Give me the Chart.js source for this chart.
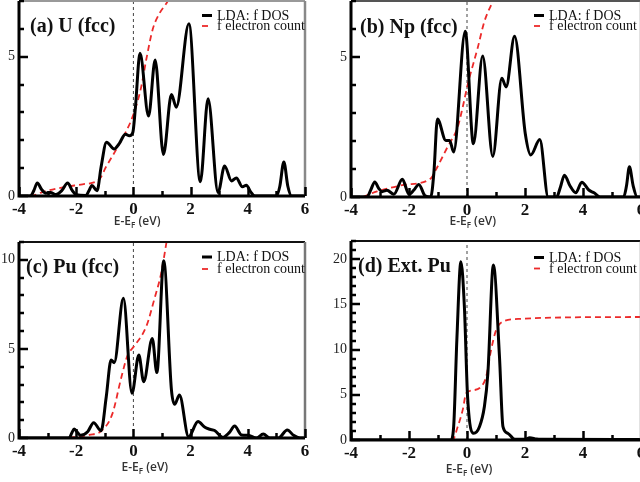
<!DOCTYPE html>
<html>
<head>
<meta charset="utf-8">
<script src="https://cdn.jsdelivr.net/npm/chart.js@4"></script>
<style>
  html, body { margin: 0; padding: 0; background: #fff; overflow: hidden; }
  body { width: 640px; height: 482px; position: relative; }
  canvas { position: absolute; }
</style>
</head>
<body>
<canvas id="pa" width="320" height="236" style="left:0;top:0"></canvas>
<canvas id="pb" width="330" height="237" style="left:330px;top:0"></canvas>
<canvas id="pc" width="320" height="250" style="left:0;top:232px"></canvas>
<canvas id="pd" width="330" height="250" style="left:330px;top:232px"></canvas>
<script>
// Tick labels
const xTickLabels = [-4, -2, 0, 2, 4, 6];
const legendLabels = ['LDA: f DOS', 'f electron count'];

// (a) U (fcc)
const uDosE = [-4, -3.6, -3.48, -3.36, -3.22, -3.06, -2.9, -2.71, -2.5, -2.3, -2.14, -2.01, -1.66, -1.55, -1.45, -1.27, -1.13, -0.94, -0.67, -0.49, -0.28, -0.14, -0.02, 0.07, 0.23, 0.53, 0.76, 1.05, 1.33, 1.5, 1.94, 2.34, 2.61, 2.96, 3.19, 3.43, 3.6, 3.81, 3.95, 4.1, 4.25, 5.0, 5.12, 5.26, 5.4, 5.53, 6];
const uDos = [0, 0, 0.2, 0.47, 0.25, 0.1, 0.13, 0.05, 0.2, 0.47, 0.2, 0.05, 0.02, 0.2, 0.38, 0.19, 1.04, 1.93, 1.69, 1.89, 2.22, 2.16, 2.28, 3.17, 5.12, 2.87, 4.88, 1.49, 3.64, 3.19, 6.18, 0.51, 3.49, 0.13, 1.08, 0.54, 0.65, 0.33, 0.39, 0.15, 0, 0, 0.35, 1.22, 0.35, 0, 0];
const uCountE = [-3.6, -3.45, -3.18, -2.36, -1.78, -1.19, -0.96, -0.49, -0.02, 0.27, 0.45, 0.68, 0.91, 1.2, 1.45];
const uCount = [0, 0.03, 0.14, 0.33, 0.42, 0.6, 1.04, 1.87, 2.87, 3.9, 4.9, 6.0, 6.55, 7.0, 7.6];

// (b) Np (fcc)
const npDosE = [-4, -3.45, -3.32, -3.18, -3.04, -2.93, -2.76, -2.52, -2.23, -2.0, -1.83, -1.66, -1.45, -1.25, -1.14, -1.02, -0.73, -0.6, -0.46, -0.06, 0.22, 0.54, 0.89, 1.2, 1.35, 1.64, 2.01, 2.2, 2.51, 2.8, 3.09, 3.22, 3.36, 3.55, 3.75, 3.96, 4.2, 4.38, 4.59, 5.4, 5.5, 5.6, 5.73, 5.87, 6];
const npDos = [0, 0, 0.25, 0.54, 0.3, 0.19, 0.24, 0.1, 0.63, 0.1, 0.25, 0.45, 0.05, 0, 0.9, 2.79, 2.02, 2.02, 1.61, 5.92, 1.9, 5.04, 1.45, 4.24, 3.93, 5.74, 2.26, 1.5, 2.05, 0, 0, 0.35, 0.78, 0.4, 0.15, 0.53, 0.25, 0.15, 0, 0, 0.4, 1.08, 0.4, 0, 0];
const npCountE = [-3.6, -3.1, -2.18, -1.25, -1.08, -0.67, -0.32, -0.15, 0.02, 0.37, 0.6, 0.89, 1.1];
const npCount = [0, 0.2, 0.43, 0.66, 0.96, 1.79, 2.5, 3.2, 4.0, 5.33, 6.27, 6.99, 7.5];

// (c) Pu (fcc)
const puDosE = [-4, -2.25, -2.15, -2.07, -1.95, -1.84, -1.6, -1.39, -1.13, -0.95, -0.78, -0.67, -0.35, -0.05, 0.19, 0.36, 0.66, 0.82, 1.06, 1.33, 1.44, 1.61, 1.93, 2.26, 2.5, 2.67, 2.84, 3.13, 3.35, 3.54, 3.78, 4.01, 4.3, 4.54, 4.78, 5.07, 5.38, 5.6, 5.82, 6];
const puDos = [0, 0, 0.3, 0.5, 0.3, 0.15, 0.35, 0.86, 0.41, 2.3, 4.38, 4.23, 7.84, 2.51, 4.66, 3.16, 5.59, 3.67, 9.95, 2.7, 1.89, 2.41, 0.07, 0.92, 0.6, 0.49, 0.42, 0.04, 0.3, 0.67, 0.17, 0.15, 0, 0.22, 0, 0, 0.45, 0.15, 0, 0];
const puCountE = [-4, -2.36, -2.0, -1.54, -1.08, -0.73, -0.43, -0.2, 0.01, 0.45, 0.74, 0.97, 1.15, 1.25];
const puCount = [0, 0, 0.07, 0.17, 0.45, 1.38, 3.35, 4.66, 5.12, 6.26, 7.84, 9.24, 10.92, 11.9];

// (d) Ext. Pu
const extDosE = [-4, -0.56, -0.46, -0.35, -0.21, -0.09, 0.02, 0.23, 0.43, 0.6, 0.72, 0.91, 1.12, 1.24, 1.41, 1.65, 2.0, 2.16, 2.4, 2.57, 6];
const extDos = [0, 0, 1.47, 11.06, 19.7, 14.7, 4.8, 0.74, 1.47, 3.7, 7.4, 19.35, 9.2, 1.47, 0.74, 0.07, 0.07, 0.26, 0.1, 0.07, 0.05];
const extCountE = [-4, -0.5, -0.32, -0.15, -0.03, 0.14, 0.49, 0.66, 0.83, 1.01, 1.24, 1.88, 3.6, 6];
const extCount = [0, 0, 1.47, 3.3, 5.16, 5.46, 5.9, 7.0, 9.95, 12.2, 13.1, 13.4, 13.56, 13.6];

const RED = 'rgb(236,42,42)';
const SERIF = '"Liberation Serif", "Times New Roman", serif';

const panels = [
    { id: 'pa', title: '(a) U (fcc)', dosE: uDosE, dos: uDos, countE: uCountE, count: uCount,
      yMax: 7, yLabels: [0, 5], pad: { top: 1, left: 0, right: 15, bottom: 0 }, yW: 19, xH: 40,
      titleDx: 11, titleDy: 31, legDy: 18.5, legGap: 10.5, axisE: 0.13, axisDy: 26, topColor: '#999', rightColor: '#888' },
    { id: 'pb', title: '(b) Np (fcc)', dosE: npDosE, dos: npDos, countE: npCountE, count: npCount,
      yMax: 7, yLabels: [0, 5], pad: { top: 1, left: 0, right: 19, bottom: 0 }, yW: 21, xH: 40,
      titleDx: 9, titleDy: 32, legDy: 18.5, legGap: 10.5, axisE: 0.2, axisDy: 25, topColor: '#555', rightColor: '#888' },
    { id: 'pc', title: '(c) Pu (fcc)', dosE: puDosE, dos: puDos, countE: puCountE, count: puCount,
      yMax: 11, yLabels: [0, 5, 10], pad: { top: 10, left: 0, right: 15, bottom: 0 }, yW: 19, xH: 44,
      titleDx: 7, titleDy: 31, legDy: 19, legGap: 12, axisE: 0.4, axisDy: 30, topColor: '#111', rightColor: '#777' },
    { id: 'pd', title: '(d) Ext. Pu', dosE: extDosE, dos: extDos, countE: extCountE, count: extCount,
      yMax: 22, yLabels: [0, 5, 10, 15, 20], pad: { top: 9, left: 0, right: 19, bottom: 0 }, yW: 21, xH: 42,
      titleDx: 7, titleDy: 31, legDy: 20.5, legGap: 11, axisE: 0.07, axisDy: 30, topColor: '#111', rightColor: '#888' },
];

function drawAxisTitle(ctx, cx, cy) {
    const big = '600 12px "Open Sans", sans-serif';
    const small = '600 8px "Open Sans", sans-serif';
    ctx.font = big;
    const w1 = ctx.measureText('E-E').width;
    const w3 = ctx.measureText(' (eV)').width;
    ctx.font = small;
    const w2 = ctx.measureText('F').width;
    let x = cx - (w1 + w2 + w3) / 2;
    ctx.fillStyle = '#333';
    ctx.textAlign = 'left';
    ctx.textBaseline = 'middle';
    ctx.font = big;
    ctx.fillText('E-E', x, cy);
    x += w1;
    ctx.font = small;
    ctx.fillText('F', x, cy + 4);
    x += w2;
    ctx.font = big;
    ctx.fillText(' (eV)', x, cy);
}

function decorPlugin(p) {
    return {
        id: 'decor',
        beforeDatasetsDraw(chart) {
            // dashed line at the Fermi level
            const { ctx, chartArea: a, scales: { x } } = chart;
            const px = x.getPixelForValue(0);
            ctx.save();
            ctx.strokeStyle = '#444';
            ctx.lineWidth = 1;
            ctx.setLineDash([3, 3]);
            ctx.beginPath();
            ctx.moveTo(px, a.bottom);
            ctx.lineTo(px, a.top);
            ctx.stroke();
            ctx.restore();
        },
        afterDraw(chart) {
            const { ctx, chartArea: a, scales: { x, y } } = chart;
            ctx.save();
            ctx.setLineDash([]);
            // frame
            ctx.lineWidth = 2;
            ctx.strokeStyle = p.topColor;
            ctx.beginPath(); ctx.moveTo(a.left, a.top); ctx.lineTo(a.right, a.top); ctx.stroke();
            ctx.lineWidth = 2.5;
            ctx.strokeStyle = p.rightColor;
            ctx.beginPath(); ctx.moveTo(a.right, a.top); ctx.lineTo(a.right, a.bottom); ctx.stroke();
            ctx.lineWidth = 3;
            ctx.strokeStyle = '#000';
            ctx.beginPath(); ctx.moveTo(a.left, a.top); ctx.lineTo(a.left, a.bottom); ctx.lineTo(a.right, a.bottom); ctx.stroke();

            // inward tick marks, one per unit on both axes
            ctx.lineWidth = 2.5;
            ctx.strokeStyle = '#000';
            ctx.beginPath();
            for (let v = Math.ceil(x.min); v <= x.max; v++) {
                const px = Math.round(x.getPixelForValue(v)) + 0.5;
                const len = xTickLabels.includes(v) ? 9 : 5;
                ctx.moveTo(px, a.bottom);
                ctx.lineTo(px, a.bottom - len);
            }
            for (let v = Math.ceil(y.min); v <= y.max; v++) {
                const py = Math.round(y.getPixelForValue(v));
                const len = p.yLabels.includes(v) ? 9 : 5;
                ctx.moveTo(a.left, py);
                ctx.lineTo(a.left + len, py);
            }
            ctx.stroke();

            // panel title
            ctx.fillStyle = '#111';
            ctx.font = 'bold 20px ' + SERIF;
            ctx.textAlign = 'left';
            ctx.textBaseline = 'alphabetic';
            ctx.fillText(p.title, a.left + p.titleDx, a.top + p.titleDy);

            // legend
            const lx = a.left + 183;
            ctx.font = '14px ' + SERIF;
            chart.data.datasets.forEach((ds, i) => {
                const by = a.top + p.legDy + i * p.legGap;
                ctx.save();
                ctx.strokeStyle = ds.borderColor;
                ctx.lineWidth = i === 0 ? 3 : 1.8;
                if (ds.borderDash) ctx.setLineDash([6, 4]);
                ctx.beginPath(); ctx.moveTo(lx, by - 4); ctx.lineTo(lx + 10, by - 4); ctx.stroke();
                ctx.restore();
                ctx.fillStyle = '#111';
                ctx.fillText(ds.label, lx + 15, by);
            });

            // x axis title
            drawAxisTitle(ctx, x.getPixelForValue(p.axisE), a.bottom + p.axisDy);
            ctx.restore();
        }
    };
}

function makeChart(p) {
    const toPts = (xs, ys) => xs.map((v, i) => ({ x: v, y: ys[i] }));
    return new Chart(document.getElementById(p.id), {
        type: 'line',
        data: {
            datasets: [
                {
                    label: legendLabels[0],
                    data: toPts(p.dosE, p.dos),
                    borderColor: '#000',
                    borderWidth: 3,
                    pointRadius: 0,
                    cubicInterpolationMode: 'monotone',
                },
                {
                    label: legendLabels[1],
                    data: toPts(p.countE, p.count),
                    borderColor: RED,
                    borderWidth: 1.8,
                    borderDash: [6, 4],
                    pointRadius: 0,
                    cubicInterpolationMode: 'monotone',
                },
            ],
        },
        options: {
            responsive: false,
            animation: false,
            layout: { padding: p.pad },
            plugins: { legend: { display: false }, tooltip: { enabled: false } },
            scales: {
                x: {
                    type: 'linear',
                    min: -4,
                    max: 6,
                    grid: { display: false, drawTicks: false },
                    border: { display: false },
                    ticks: {
                        stepSize: 1,
                        autoSkip: false,
                        maxRotation: 0,
                        padding: 3,
                        color: '#111',
                        font: { family: SERIF, size: 17, weight: 'bold' },
                        callback: v => xTickLabels.includes(v) ? String(v) : '',
                    },
                    afterFit: s => { s.height = p.xH; s.paddingLeft = 0; s.paddingRight = 0; },
                },
                y: {
                    min: 0,
                    max: p.yMax,
                    grid: { display: false, drawTicks: false },
                    border: { display: false },
                    ticks: {
                        stepSize: 1,
                        autoSkip: false,
                        padding: 4,
                        color: '#222',
                        font: { family: SERIF, size: 14 },
                        callback: v => p.yLabels.includes(v) ? String(v) : '',
                    },
                    afterFit: s => { s.width = p.yW; s.paddingTop = 0; s.paddingBottom = 0; },
                },
            },
        },
        plugins: [decorPlugin(p)],
    });
}

panels.forEach(makeChart);
</script>
</body>
</html>
